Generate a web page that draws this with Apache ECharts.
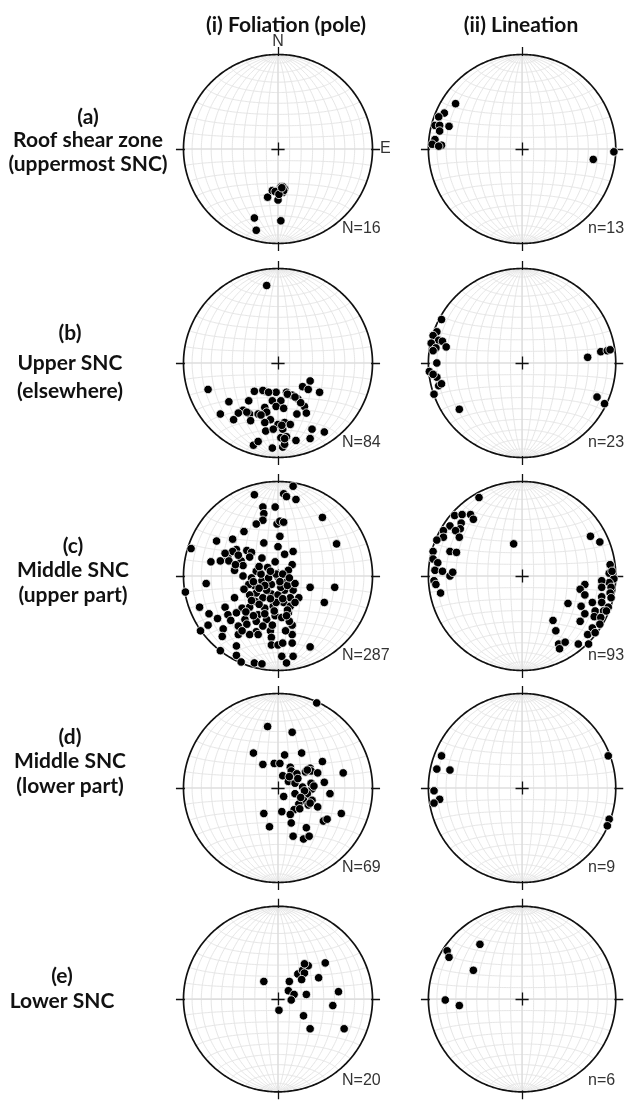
<!DOCTYPE html>
<html>
<head>
<meta charset="utf-8">
<script src="https://cdn.jsdelivr.net/npm/echarts@6/dist/echarts.min.js"></script>
<style>
  html, body { margin: 0; padding: 0; background: #fff; }
  #chart { width: 627px; height: 1103px; }
</style>
</head>
<body>
<div id="chart"></div>
<script>
// Lower-hemisphere equal-area (Schmidt) plots. Every point is given as its
// projected position on a unit primitive circle: [east, north].

const columnTitles = ['(i) Foliation (pole)', '(ii) Lineation'];

const rowLabels = [
  ['(a)', 'Roof shear zone', '(uppermost SNC)'],
  ['(b)', 'Upper SNC', '(elsewhere)'],
  ['(c)', 'Middle SNC', '(upper part)'],
  ['(d)', 'Middle SNC', '(lower part)'],
  ['(e)', 'Lower SNC']
];

const foliationCounts = ['N=16', 'N=84', 'N=287', 'N=69', 'N=20'];
const lineationCounts = ['n=13', 'n=23', 'n=93', 'n=9', 'n=6'];

// (a) Roof shear zone
const foliationA = [
  [-0.11,-0.51],[-0.06,-0.44],[0.00,-0.54],[0.00,-0.44],[0.05,-0.46],[0.07,-0.42],
  [0.03,-0.40],[0.05,-0.40],[0.02,-0.43],[-0.03,-0.45],[0.06,-0.44],[0.01,-0.48],
  [-0.25,-0.73],[0.03,-0.76],[-0.23,-0.86],[0.04,-0.41]
];
const lineationA = [
  [-0.71,0.48],[-0.83,0.38],[-0.89,0.34],[-0.93,0.25],[-0.88,0.25],[-0.78,0.24],
  [-0.88,0.19],[-0.93,0.10],[-0.96,0.05],[-0.86,0.04],[-0.89,0.03],[0.76,-0.11],[0.98,-0.03]
];

// (b) Upper SNC
const foliationB = [
  [-0.12,0.82],[-0.74,-0.28],[0.34,-0.19],[0.26,-0.25],[0.32,-0.28],[0.44,-0.31],
  [-0.25,-0.30],[-0.14,-0.30],[-0.16,-0.29],[-0.02,-0.31],[0.09,-0.31],[0.15,-0.34],
  [0.21,-0.38],[-0.06,-0.40],[0.03,-0.40],[-0.31,-0.40],[-0.52,-0.41],[-0.14,-0.47],
  [-0.02,-0.46],[0.06,-0.48],[0.28,-0.46],[-0.37,-0.50],[-0.42,-0.53],[-0.61,-0.54],
  [-0.30,-0.54],[-0.21,-0.54],[-0.12,-0.52],[0.20,-0.54],[0.30,-0.53],[-0.47,-0.60],
  [-0.29,-0.61],[-0.08,-0.60],[-0.14,-0.63],[0.00,-0.65],[0.07,-0.63],[0.13,-0.65],
  [-0.13,-0.72],[-0.05,-0.70],[0.05,-0.70],[0.36,-0.70],[0.49,-0.73],[0.03,-0.79],
  [0.09,-0.78],[0.19,-0.82],[0.34,-0.80],[-0.26,-0.87],[-0.21,-0.83],[-0.06,-0.90],
  [0.05,-0.89],[0.07,-0.86],[0.10,-0.33],[0.24,-0.42],[-0.18,-0.55],[0.04,-0.66],
  [0.07,-0.80],[-0.10,-0.31],[0.18,-0.36],[-0.33,-0.52]
];
const lineationB = [
  [-0.86,0.46],[-0.91,0.33],[-0.95,0.29],[-0.89,0.24],[-0.85,0.23],[-0.97,0.21],
  [-0.92,0.16],[-0.81,0.17],[-0.95,0.13],[-0.91,0.00],[-0.99,-0.09],[-0.91,-0.15],
  [-0.95,-0.12],[-0.89,-0.24],[-0.86,-0.22],[-0.94,-0.33],[-0.67,-0.49],[0.70,0.06],
  [0.84,0.12],[0.91,0.13],[0.94,0.14],[0.80,-0.36],[0.88,-0.43]
];

// (c) Middle SNC, upper part
const foliationC = [
  [0.16,0.95],[-0.25,0.86],[0.06,0.87],[0.09,0.84],[0.19,0.81],[-0.16,0.73],
  [-0.03,0.73],[-0.15,0.66],[0.47,0.62],[-0.16,0.59],[-0.23,0.55],[-0.01,0.55],
  [0.02,0.58],[0.06,0.57],[-0.36,0.47],[0.02,0.42],[-0.65,0.37],[-0.48,0.39],
  [-0.15,0.35],[0.62,0.34],[-0.92,0.29],[-0.44,0.28],[-0.48,0.26],[-0.33,0.27],
  [-0.28,0.25],[0.00,0.31],[0.07,0.23],[0.16,0.26],[-0.53,0.19],[-0.71,0.15],
  [-0.61,0.16],[-0.52,0.16],[-0.39,0.16],[-0.17,0.19],[-0.03,0.15],[0.15,0.12],
  [-0.46,0.06],[-0.37,0.11],[0.11,0.06],[-0.11,0.09],[-0.23,0.05],[-0.37,0.00],
  [0.00,-0.01],[-0.76,-0.08],[-0.98,-0.17],[0.34,-0.12],[0.60,-0.12],[-0.17,-0.05],
  [-0.25,-0.10],[-0.31,-0.09],[-0.07,-0.09],[0.07,-0.07],[-0.23,-0.18],[-0.16,-0.23],
  [-0.07,-0.19],[0.00,-0.20],[0.07,-0.15],[0.16,-0.15],[0.22,-0.23],[0.13,-0.23],
  [-0.46,-0.23],[-0.24,-0.27],[0.06,-0.28],[0.49,-0.28],[-0.83,-0.33],[-0.56,-0.33],
  [-0.38,-0.34],[-0.30,-0.33],[-0.14,-0.34],[-0.05,-0.32],[0.13,-0.32],[-0.73,-0.40],
  [-0.53,-0.41],[-0.44,-0.39],[-0.21,-0.41],[-0.12,-0.46],[-0.03,-0.42],[0.04,-0.44],
  [0.11,-0.39],[-0.35,-0.46],[-0.23,-0.48],[-0.74,-0.52],[-0.42,-0.53],[-0.33,-0.51],
  [0.15,-0.52],[-0.82,-0.58],[-0.58,-0.56],[-0.08,-0.58],[-0.23,-0.59],[-0.59,-0.64],
  [-0.42,-0.62],[-0.30,-0.62],[-0.07,-0.65],[0.15,-0.62],[-0.21,-0.62],[-0.44,-0.74],
  [-0.07,-0.73],[0.00,-0.73],[0.05,-0.71],[0.15,-0.71],[0.34,-0.75],[-0.61,-0.79],
  [-0.44,-0.84],[0.04,-0.85],[0.16,-0.85],[-0.39,-0.91],[-0.25,-0.92],[-0.17,-0.93],
  [0.09,-0.92],[-0.10,-0.02],[-0.18,0.02],[0.03,-0.12],[-0.12,-0.15],[-0.02,-0.28],
  [0.10,-0.10],[-0.28,-0.02],[-0.20,-0.30],[-0.30,-0.20],[-0.36,-0.14],[0.10,-0.36],
  [0.18,-0.08],[-0.02,0.02],[-0.14,-0.40],[-0.06,-0.52],[0.12,-0.48],
  [-0.42,0.22],[-0.56,0.24],[-0.45,0.12],[-0.30,0.20],[-0.20,0.10],[-0.08,0.05],
  [0.05,0.02],[0.12,-0.02],[-0.26,-0.06],[-0.14,-0.10],[0.02,-0.06],[-0.20,-0.13],
  [-0.08,-0.24],[0.05,-0.24],[-0.28,-0.26],[-0.34,-0.38],[-0.26,-0.42],[-0.04,-0.37],
  [0.09,-0.42],[0.18,-0.28],[-0.16,-0.53],[-0.38,-0.58],[0.08,-0.58],[-0.50,-0.47],
  [-0.64,-0.45]
];
const lineationC = [
  [-0.46,0.83],[-0.72,0.64],[-0.64,0.65],[-0.55,0.65],[-0.52,0.60],[-0.77,0.53],
  [-0.65,0.56],[-0.66,0.50],[-0.84,0.48],[-0.71,0.48],[-0.84,0.41],[-0.67,0.41],
  [-0.91,0.38],[-0.95,0.26],[-0.77,0.26],[-0.70,0.25],[-0.95,0.18],[-0.90,0.14],
  [-0.93,0.06],[-0.85,0.05],[-0.94,-0.05],[-0.77,0.00],[-0.74,0.04],[-0.92,-0.09],
  [-0.87,-0.18],[-0.09,0.34],[0.73,0.42],[0.83,0.36],[0.94,0.12],[0.93,0.03],
  [0.98,-0.03],[0.93,-0.07],[0.85,-0.05],[0.67,-0.09],[0.62,-0.14],[0.85,-0.12],
  [0.95,-0.12],[0.67,-0.20],[0.94,-0.18],[0.85,-0.22],[0.95,-0.23],[0.49,-0.29],
  [0.63,-0.32],[0.75,-0.28],[0.85,-0.28],[0.92,-0.33],[0.67,-0.40],[0.78,-0.37],
  [0.87,-0.37],[0.77,-0.43],[0.84,-0.44],[0.90,-0.37],[0.33,-0.47],[0.62,-0.48],
  [0.83,-0.51],[0.36,-0.58],[0.75,-0.55],[0.70,-0.62],[0.78,-0.60],[0.39,-0.72],
  [0.46,-0.70],[0.40,-0.77],[0.60,-0.72],[0.71,-0.72],[0.96,0.05]
];

// (d) Middle SNC, lower part
const foliationD = [
  [0.41,0.90],[-0.11,0.65],[0.15,0.59],[-0.26,0.37],[0.07,0.35],[0.25,0.37],
  [-0.16,0.25],[-0.04,0.26],[0.02,0.26],[0.47,0.28],[0.13,0.22],[0.14,0.18],
  [0.34,0.21],[0.29,0.17],[0.35,0.18],[0.42,0.16],[0.69,0.16],[0.05,0.13],
  [0.20,0.15],[0.11,0.07],[0.18,0.05],[0.49,0.06],[0.26,0.01],[0.36,-0.01],
  [0.35,0.05],[0.06,-0.09],[0.18,-0.06],[0.31,-0.06],[0.55,-0.06],[0.27,-0.13],
  [0.22,-0.17],[0.36,-0.13],[0.32,-0.18],[0.42,-0.20],[0.17,-0.23],[0.23,-0.22],
  [-0.15,-0.27],[0.04,-0.25],[0.13,-0.28],[0.67,-0.27],[0.48,-0.35],[0.52,-0.33],
  [0.14,-0.37],[-0.09,-0.41],[0.30,-0.42],[0.16,-0.51],[0.27,-0.54],[0.33,-0.51],
  [0.31,0.19],[0.21,0.10],[0.28,-0.03],[0.34,-0.16],[0.12,0.12],[0.24,-0.10],[0.38,0.02]
];
const lineationD = [
  [-0.86,0.34],[-0.91,0.20],[-0.77,0.19],[-0.94,-0.03],[-0.88,-0.12],[-0.94,-0.16],
  [0.92,0.34],[0.93,-0.33],[0.91,-0.40]
];

// (e) Lower SNC
const foliationE = [
  [-0.15,0.19],[0.12,0.19],[0.11,0.09],[0.17,0.05],[0.14,-0.01],[0.01,-0.12],
  [0.21,0.27],[0.26,0.31],[0.28,0.28],[0.25,0.21],[0.32,0.36],[0.28,0.38],
  [0.50,0.39],[0.43,0.23],[0.30,0.05],[0.64,0.08],[0.58,-0.07],[0.27,-0.18],
  [0.34,-0.32],[0.70,-0.32]
];
const lineationE = [
  [-0.45,0.59],[-0.80,0.52],[-0.78,0.45],[-0.52,0.31],[-0.82,-0.01],[-0.67,-0.07]
];

const foliationSets = [foliationA, foliationB, foliationC, foliationD, foliationE];
const lineationSets = [lineationA, lineationB, lineationC, lineationD, lineationE];

// ---- layout ----
const colX = [278, 523];
const rowY = [149, 363, 576, 788, 1001];
const R = 94.5;
const EXT = 1.12;
const labelX = [88, 70, 73, 70, 62];
const labelLines = [
  [117, 140, 164],
  [333, 363, 391],
  [546, 570, 595],
  [737, 761, 786],
  [976, 1001]
];

// ---- Schmidt net geometry (unit primitive) ----
function project(e, n, d) {
  const h = Math.hypot(e, n);
  if (h < 1e-12) return [0, 0];
  const r = Math.sqrt(Math.max(0, 1 - d));
  return [e / h * r, n / h * r];
}
const rad = Math.PI / 180;
const netCurves = [];
const netAxes = [];
for (let dip = 10; dip <= 170; dip += 10) {
  // great circles striking N-S
  const c = [];
  for (let t = -90; t <= 90; t += 1.5) {
    const e = Math.cos(t * rad) * Math.cos(dip * rad);
    const n = Math.sin(t * rad);
    const d = Math.cos(t * rad) * Math.sin(dip * rad);
    c.push(project(e, n, d));
  }
  (dip === 90 ? netAxes : netCurves).push(c);
}
for (let a = 10; a <= 170; a += 10) {
  // small circles about the N-S axis
  const c = [];
  for (let s = 0; s <= 180; s += 1.5) {
    const n = Math.cos(a * rad);
    const e = Math.sin(a * rad) * Math.cos(s * rad);
    const d = Math.sin(a * rad) * Math.sin(s * rad);
    c.push(project(e, n, d));
  }
  (a === 90 ? netAxes : netCurves).push(c);
}
const primitive = [];
for (let k = 0; k <= 360; k += 1) primitive.push([Math.cos(k * rad), Math.sin(k * rad)]);

const ticks = [
  [[0, 0.985], [0, 1.08]], [[0, -0.985], [0, -1.08]],
  [[0.985, 0], [1.08, 0]], [[-0.985, 0], [-1.08, 0]]
];
const cross = [[[-0.07, 0], [0.07, 0]], [[0, -0.07], [0, 0.07]]];

// ---- build option ----
const grids = [], xAxes = [], yAxes = [], series = [], graphics = [];
let gi = 0;
function addNet(cx, cy, pts) {
  grids.push({ left: cx - R * EXT, top: cy - R * EXT, width: 2 * R * EXT, height: 2 * R * EXT });
  xAxes.push({ type: 'value', gridIndex: gi, min: -EXT, max: EXT, show: false });
  yAxes.push({ type: 'value', gridIndex: gi, min: -EXT, max: EXT, show: false });
  const common = { xAxisIndex: gi, yAxisIndex: gi, coordinateSystem: 'cartesian2d', silent: true, animation: false };
  series.push(Object.assign({
    type: 'lines', polyline: true, z: 1,
    lineStyle: { color: '#e6e6e6', width: 1, opacity: 1 },
    data: netCurves.map(c => ({ coords: c }))
  }, common));
  series.push(Object.assign({
    type: 'lines', polyline: true, z: 1,
    lineStyle: { color: '#dedede', width: 1.6, opacity: 1 },
    data: netAxes.map(c => ({ coords: c }))
  }, common));
  series.push(Object.assign({
    type: 'lines', polyline: true, z: 2,
    lineStyle: { color: '#111', width: 1.7, opacity: 1 },
    data: [{ coords: primitive }]
  }, common));
  series.push(Object.assign({
    type: 'lines', z: 2,
    lineStyle: { color: '#111', width: 1.3, opacity: 1 },
    data: ticks.concat(cross).map(c => ({ coords: c }))
  }, common));
  series.push(Object.assign({
    type: 'scatter', z: 3, symbol: 'circle', symbolSize: 8.5,
    itemStyle: { color: '#000', borderColor: '#fff', borderWidth: 0.8, opacity: 1 },
    data: pts
  }, common));
  gi++;
}

for (let r = 0; r < 5; r++) {
  addNet(colX[0], rowY[r], foliationSets[r]);
  addNet(colX[1], rowY[r], lineationSets[r]);
}

const boldFont = 'bold 21px Lato, "Open Sans", sans-serif';
function text(x, y, str, font, align, fill) {
  graphics.push({
    type: 'text', x: x, y: y, silent: true,
    style: { text: str, font: font, fill: fill || '#111',
             textAlign: align || 'center', align: align || 'center',
             textVerticalAlign: 'middle', verticalAlign: 'middle' }
  });
}

text(286, 25, columnTitles[0], boldFont);
text(521, 25, columnTitles[1], boldFont);

const smallFont = '16px "Liberation Sans", Arial, sans-serif';
for (let r = 0; r < 5; r++) {
  rowLabels[r].forEach((line, k) => text(labelX[r], labelLines[r][k], line, boldFont));
  text(colX[0] + 64, rowY[r] + 80, foliationCounts[r], smallFont, 'left', '#333');
  text(colX[1] + 65, rowY[r] + 80, lineationCounts[r], smallFont, 'left', '#333');
}
text(colX[0], rowY[0] - 107, 'N', smallFont, 'center', '#333');
text(colX[0] + 102, rowY[0], 'E', smallFont, 'left', '#333');

const chart = echarts.init(document.getElementById('chart'), null, { renderer: 'canvas' });
chart.setOption({
  animation: false,
  backgroundColor: '#fff',
  grid: grids,
  xAxis: xAxes,
  yAxis: yAxes,
  series: series,
  graphic: graphics
});
</script>
</body>
</html>
